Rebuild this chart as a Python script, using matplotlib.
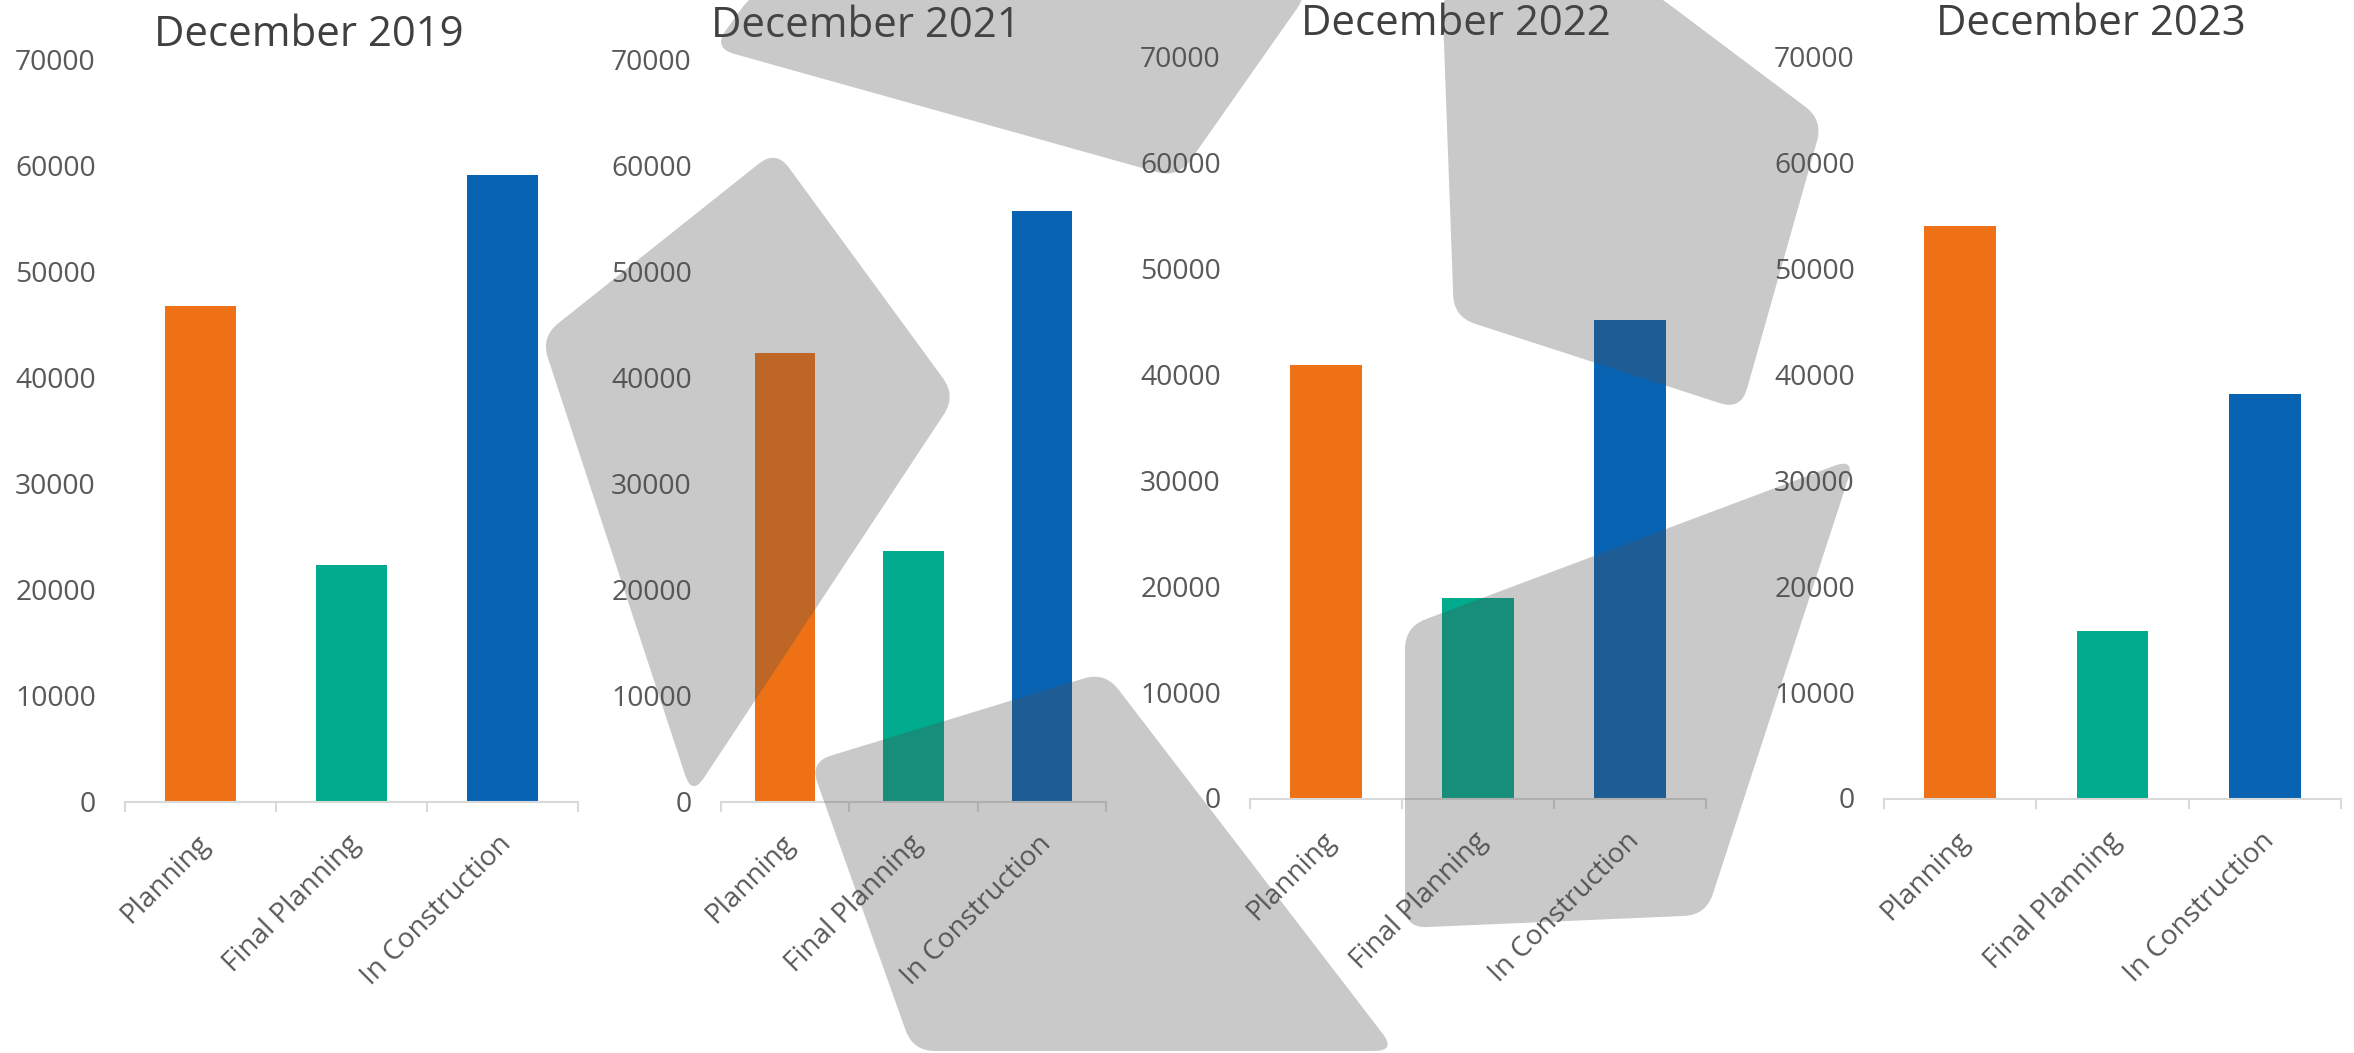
import matplotlib
matplotlib.use('Agg')
import matplotlib.pyplot as plt
from matplotlib.patches import PathPatch
from matplotlib.path import Path
from matplotlib.transforms import Affine2D, ScaledTranslation
import numpy as np

W, H = 2354, 1053

categories = ['Planning', 'Final Planning', 'In Construction']
titles = ['December 2019', 'December 2021', 'December 2022', 'December 2023']
values_2019 = [46830, 22380, 59230]
values_2021 = [42430, 23680, 55760]
values_2022 = [41000, 18970, 45210]
values_2023 = [54070, 15860, 38220]
all_values = [values_2019, values_2021, values_2022, values_2023]
colors = ['#EE7115', '#00AB8E', '#0863B3']

# panel boxes in pixels: left, right, y of 70000, y of 0
boxes = [(125, 578, 60.5, 802), (721, 1106, 60.5, 802),
         (1250, 1706, 57.5, 799), (1884, 2341, 57.5, 799)]
title_pos = [(309, 35), (866, 26), (1456, 24), (2091, 24)]

# grey shapes lying over the charts, pixels from top left
shapes = [
    [(776, 150), (541, 337), (692, 796), (956, 396)],
    [(755, -10), (1310, -10), (1178, 178), (713, 48)],
    [(810, 762), (1105, 672), (1396, 1051), (913, 1051)],
    [(1442, -10), (1454, 317), (1741, 410), (1823, 120), (1650, -10)],
    [(1405, 627), (1855, 458), (1706, 915), (1405, 928)],
]


def rounded(pts, r=22):
    verts, codes = [], []
    n = len(pts)
    for i in range(n):
        p = np.array(pts[i], float)
        a = np.array(pts[i - 1], float)
        b = np.array(pts[(i + 1) % n], float)
        p1 = p + (a - p) / np.linalg.norm(a - p) * r
        p2 = p + (b - p) / np.linalg.norm(b - p) * r
        verts += [p1, p, p2]
        codes += [Path.MOVETO if i == 0 else Path.LINETO, Path.CURVE3, Path.CURVE3]
    verts.append(verts[0])
    codes.append(Path.CLOSEPOLY)
    return Path(verts, codes)


plt.rcParams['font.family'] = ['Open Sans', 'DejaVu Sans']
fig = plt.figure(figsize=(W / 100, H / 100), dpi=100, facecolor='white')
px = Affine2D().scale(1 / W, -1 / H).translate(0, 1) + fig.transFigure

x = np.arange(3) + 0.5
for box, vals, title, tp in zip(boxes, all_values, titles, title_pos):
    l, r, t, b = box
    ax = fig.add_axes([l / W, 1 - b / H, (r - l) / W, (b - t) / H])
    ax.bar(x, vals, width=0.47, color=colors)
    ax.set_xlim(0, 3)
    ax.set_ylim(0, 70000)
    ax.set_yticks(range(0, 70001, 10000))
    ax.set_xticks(x)
    ax.set_xticklabels(categories, rotation=45, ha='right', rotation_mode='anchor',
                       fontsize=20.1, color='#595959')
    ax.set_xticks([0, 1, 2, 3], minor=True)
    ax.tick_params(axis='x', which='major', length=0, pad=20)
    ax.tick_params(axis='x', which='minor', length=7, width=1.5, color='#D9D9D9')
    ax.tick_params(axis='y', length=0, pad=21, labelsize=20.3, labelcolor='#595959')
    # small nudges so the labels sit where the reference has them
    for lab in ax.get_xticklabels():
        lab.set_transform(lab.get_transform() + ScaledTranslation(-5 / 100, 0, fig.dpi_scale_trans))
    for lab in ax.get_yticklabels():
        lab.set_transform(lab.get_transform() + ScaledTranslation(0, 1 / 100, fig.dpi_scale_trans))
    for s in ['top', 'left', 'right']:
        ax.spines[s].set_visible(False)
    ax.spines['bottom'].set_color('#D9D9D9')
    ax.spines['bottom'].set_linewidth(1.5)
    fig.text(tp[0] / W, 1 - tp[1] / H, title, fontsize=30.2, color='#404040',
             ha='center', va='center')

for pts in shapes:
    fig.add_artist(PathPatch(rounded(pts), transform=px, facecolor=(78 / 255, 78 / 255, 78 / 255),
                             alpha=0.3, edgecolor='none', zorder=10))

fig.savefig('out.png', dpi=100)
